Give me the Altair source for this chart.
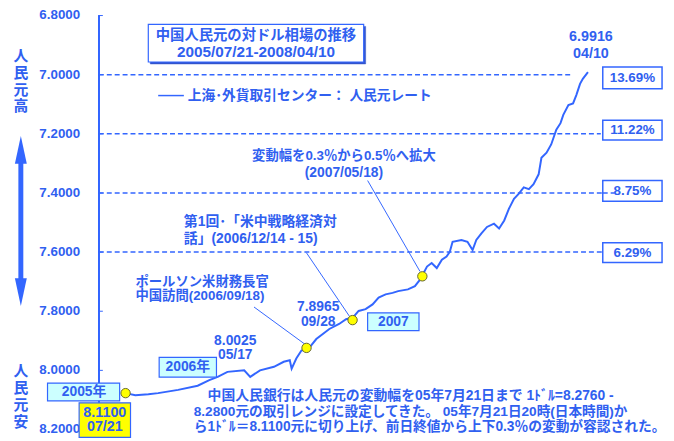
import altair as alt
import pandas as pd

# ---- data (days since 2005-07-21, CNY per USD) ----
days = [0, 21, 49, 70, 113, 155, 180, 198, 219, 255, 268, 289, 319, 340, 353, 357,
        367, 378, 393, 410, 438, 459, 474, 489, 501, 516, 531, 544, 559, 574, 586,
        607, 622, 633, 639, 648, 658, 669, 680, 690, 697, 703, 722, 735, 746, 754,
        765, 777, 792, 803, 814, 824, 835, 845, 856, 867, 877, 888, 894, 905, 915,
        926, 935, 941, 952, 962, 969, 977, 983, 994]
rates = [8.077, 8.084, 8.081, 8.077, 8.066, 8.052, 8.033, 8.022, 8.005, 8.000,
         8.022, 8.000, 7.988, 7.971, 7.966, 7.994, 7.960, 7.933, 7.927, 7.894,
         7.860, 7.843, 7.827, 7.821, 7.799, 7.793, 7.777, 7.754, 7.743, 7.738,
         7.732, 7.726, 7.715, 7.693, 7.676, 7.649, 7.637, 7.654, 7.626, 7.615,
         7.599, 7.565, 7.559, 7.565, 7.593, 7.559, 7.537, 7.515, 7.504, 7.520,
         7.493, 7.454, 7.420, 7.403, 7.381, 7.387, 7.370, 7.337, 7.281, 7.264,
         7.236, 7.186, 7.164, 7.136, 7.103, 7.097, 7.069, 7.031, 7.014, 6.9916]

marker_days = [0, 389, 488, 638]
marker_rates = [8.077, 7.924, 7.830, 7.682]

tick_values = [6.8, 7.0, 7.2, 7.4, 7.6, 7.8, 8.0, 8.2]
ref_rates = [7.0, 7.2, 7.4, 7.6]
ref_labels = ["13.69%", "11.22%", "8.75%", "6.29%"]

# ---- styling ----
BLUE = "#3366FF"
TXT = "#3060F0"
FONT = "'Liberation Sans', 'Noto Sans CJK JP', sans-serif"
OX, OY = 100, 13  # page position of plot origin

df = pd.DataFrame({"day": days, "rate": rates})
mk = pd.DataFrame({"day": marker_days, "rate": marker_rates})
tk = pd.DataFrame({"v": tick_values})
one = pd.DataFrame({"k": [0]})

xs = alt.Scale(domain=[-57.35, 1153.3], nice=False, zero=False)
ys = alt.Scale(domain=[6.8, 8.2], reverse=True, nice=False, zero=False)


def X(v):
    return alt.value(v - OX)


def Y(v):
    return alt.value(v - OY)


def txt(s, x, y, size=13, align="center", color=TXT):
    return alt.Chart(one).mark_text(text=s, fontSize=size, font=FONT, fontWeight="bold",
                                    align=align, baseline="middle", color=color).encode(
        x=X(x), y=Y(y))


def box(x1, y1, x2, y2, fill, stroke=BLUE, sw=1.2):
    return alt.Chart(one).mark_rect(fill=fill, stroke=stroke, strokeWidth=sw).encode(
        x=X(x1), x2=X(x2), y=Y(y1), y2=Y(y2))


def seg(x1, y1, x2, y2, color=BLUE, sw=1):
    return alt.Chart(one).mark_rule(color=color, strokeWidth=sw).encode(
        x=X(x1), x2=X(x2), y=Y(y1), y2=Y(y2))


layers = []

# y axis: domain line, inward ticks, labels
layers.append(alt.Chart(tk).mark_rule(color=BLUE, strokeWidth=1).encode(
    x=alt.value(0), y=alt.value(0), y2=alt.value(419)))
layers.append(alt.Chart(tk).mark_rule(color=BLUE, strokeWidth=1).encode(
    y=alt.Y("v:Q", scale=ys, axis=None), x=alt.value(0), x2=alt.value(4)))
layers.append(alt.Chart(tk).mark_text(font=FONT, fontSize=13.5, fontWeight="bold",
                                      color=TXT, align="right", baseline="middle").encode(
    y=alt.Y("v:Q", scale=ys, axis=None), x=alt.value(-19),
    text=alt.Text("v:Q", format=".4f")))

# dashed reference lines
ref_end = [580, 608, 622, 609]
for r, e in zip(ref_rates, ref_end):
    layers.append(alt.Chart(pd.DataFrame({"rate": [r]})).mark_rule(
        color=BLUE, strokeWidth=1.5, strokeDash=[5, 3]).encode(
        y=alt.Y("rate:Q", scale=ys, axis=None), x=alt.value(0), x2=X(e)))

# main line
layers.append(alt.Chart(df).mark_line(color=BLUE, strokeWidth=2).encode(
    x=alt.X("day:Q", scale=xs, axis=None),
    y=alt.Y("rate:Q", scale=ys, axis=None)))

# leader lines
layers += [seg(257, 308, 309, 346), seg(310, 253, 354, 318), seg(372, 180, 425, 272)]

# markers
layers.append(alt.Chart(mk).mark_circle(fill="#FFFF00", stroke="#666633",
                                        strokeWidth=1, size=90, opacity=1).encode(
    x=alt.X("day:Q", scale=xs, axis=None), y=alt.Y("rate:Q", scale=ys, axis=None)))

# title box
layers += [box(152, 24, 370, 62, "#3355CC", stroke="#3355CC", sw=0.5),
           box(150, 22, 368, 60, "white", sw=1.2),
           txt("中国人民元の対ドル相場の推移", 259, 34, size=14.5),
           txt("2005/07/21-2008/04/10", 259, 50, size=15.5)]

# legend
layers += [seg(160, 94, 186, 94, sw=1.5),
           txt("上海･外貨取引センター：  人民元レート", 190, 94, size=13.9, align="left")]

# end value
layers += [txt("6.9916", 598, 35, size=14.5), txt("04/10", 598, 52, size=14.5)]

# percent boxes
pb = [(65, 87), (119, 139), (180, 201), (243, 263)]
for (y1, y2), lab in zip(pb, ref_labels):
    layers += [box(610, y1, 670, y2, "white", sw=1.5), txt(lab, 640, (y1 + y2) / 2, size=13.5)]
# dashed line crossing into the 8.75% box
layers.append(alt.Chart(pd.DataFrame({"rate": [ref_rates[2]]})).mark_rule(
    color=BLUE, strokeWidth=1.5, strokeDash=[5, 3]).encode(
    y=alt.Y("rate:Q", scale=ys, axis=None), x=X(610), x2=X(622)))

# annotations
layers += [txt("変動幅を0.3％から0.5％へ拡大", 348, 155, size=13.5),
           txt("(2007/05/18)", 348, 172, size=14),
           txt("第1回･「米中戦略経済対", 186, 222, size=14, align="left"),
           txt("話」(2006/12/14 - 15)", 186, 239, size=14, align="left"),
           txt("ポールソン米財務長官", 137, 283, size=13.5, align="left"),
           txt("中国訪問(2006/09/18)", 137, 297, size=13.5, align="left"),
           txt("7.8965", 322, 308, size=14), txt("09/28", 322, 323, size=14),
           txt("8.0025", 238, 342, size=14), txt("05/17", 238, 357, size=14)]

# year boxes
layers += [box(372, 314, 424, 332, "#CCFFFF"), txt("2007", 398, 323, size=14),
           box(161, 359, 219, 379, "#CCFFFF"), txt("2006年", 190, 369, size=14),
           box(48, 385, 121, 403, "#CCFFFF"), txt("2005年", 85, 394, size=14),
           box(80, 405, 132, 440, "#FFFF00"),
           txt("8.1100", 106, 415, size=14.5), txt("07/21", 106, 430, size=14.5)]

# bottom note
layers += [txt("中国人民銀行は人民元の変動幅を05年7月21日まで 1ﾄﾞﾙ=8.2760 -", 210, 398, size=14, align="left"),
           txt("8.2800元の取引レンジに設定してきた。 05年7月21日20時(日本時間)か", 196, 414, size=13.8, align="left"),
           txt("ら1ﾄﾞﾙ＝8.1100元に切り上げ、前日終値から上下0.3％の変動が容認された。", 196, 430, size=13.9, align="left")]

# left vertical labels and arrow
for i, ch in enumerate("人民元高"):
    layers.append(txt(ch, 21, 54 + i * 17, size=15))
for i, ch in enumerate("人民元安"):
    layers.append(txt(ch, 21, 373 + i * 17, size=15))
layers += [seg(21, 150, 21, 292, sw=5),
           alt.Chart(one).mark_point(shape="M0,-1L0.43,1L-0.43,1Z", size=784, filled=True,
                                     color=BLUE, opacity=1).encode(x=X(21), y=Y(149)),
           alt.Chart(one).mark_point(shape="M0,1L0.43,-1L-0.43,-1Z", size=784, filled=True,
                                     color=BLUE, opacity=1).encode(x=X(21), y=Y(293))]

chart = alt.layer(*layers).properties(
    width=570, height=419,
    autosize=alt.AutoSizeParams(type="none"),
    padding={"left": 92, "top": 5, "right": 4, "bottom": 9},
).configure_view(stroke=None)

chart.save("out.html", embed_options={"renderer": "svg", "actions": False})
